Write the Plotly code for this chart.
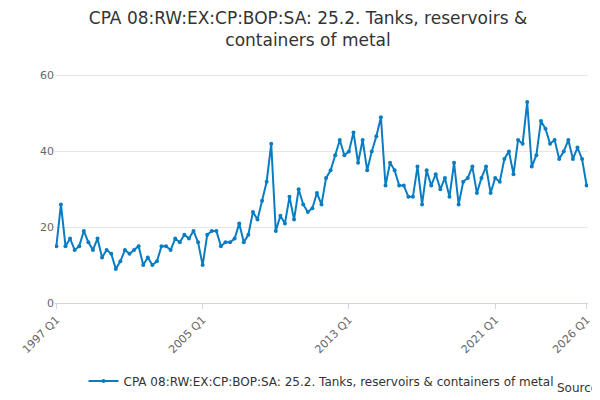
import plotly.graph_objects as go

years = list(range(1997, 2027))
quarters = [f"{y} Q{q}" for y in years for q in range(1, 5)][:117]

values = [
    15, 26, 15, 17, 14, 15, 19, 16, 14, 17, 12, 14, 13, 9, 11, 14,
    13, 14, 15, 10, 12, 10, 11, 15, 15, 14, 17, 16, 18, 17, 19, 16,
    10, 18, 19, 19, 15, 16, 16, 17, 21, 16, 18, 24, 22, 27, 32, 42,
    19, 23, 21, 28, 22, 30, 26, 24, 25, 29, 26, 33, 35, 39, 43, 39,
    40, 45, 37, 43, 35, 40, 44, 49, 31, 37, 35, 31, 31, 28, 28, 36,
    26, 35, 31, 34, 30, 33, 28, 37, 26, 32, 33, 36, 29, 33, 36, 29,
    33, 32, 38, 40, 34, 43, 42, 53, 36, 39, 48, 46, 42, 43, 38, 40,
    43, 38, 41, 38, 31,
]
tick_labels = ["1997 Q1", "2005 Q1", "2013 Q1", "2021 Q1", "2026 Q1"]

name = "CPA 08:RW:EX:CP:BOP:SA: 25.2. Tanks, reservoirs & containers of metal"

fig = go.Figure()
fig.add_trace(go.Scatter(
    x=quarters, y=values, mode="lines+markers", name=name,
    line=dict(color="#0a7dc2", width=2),
    marker=dict(size=4, color="#0a7dc2"),
    showlegend=True,
))

fig.update_layout(
    width=600, height=400,
    title=dict(text="CPA 08:RW:EX:CP:BOP:SA: 25.2. Tanks, reservoirs &<br>containers of metal",
               x=0.5, y=0.96, font=dict(size=17, color="#333333")),
    font=dict(family="DejaVu Sans", color="#666666"),
    plot_bgcolor="white", paper_bgcolor="white",
    margin=dict(l=40, r=20, t=60, b=102),
    legend=dict(orientation="h", x=0.5, xanchor="center", y=-0.27,
                font=dict(size=12, color="#333333")),
    annotations=[dict(text="Source:", x=1.03, y=-0.40, xref="paper", yref="paper",
                      showarrow=False, xanchor="right", font=dict(size=12, color="#333333"))],
)
fig.update_xaxes(type="category", range=[-0.3, 116.3], tickvals=tick_labels, ticktext=tick_labels,
                 tickangle=-45, showgrid=False, showline=True, linecolor="#ccd6eb",
                 ticks="outside", tickcolor="#ccd6eb", tickfont=dict(size=11))
fig.update_yaxes(range=[0, 62], tickvals=[0, 20, 40, 60], gridcolor="#e6e6e6",
                 zeroline=False, tickfont=dict(size=11))

fig.write_html("out.html")
